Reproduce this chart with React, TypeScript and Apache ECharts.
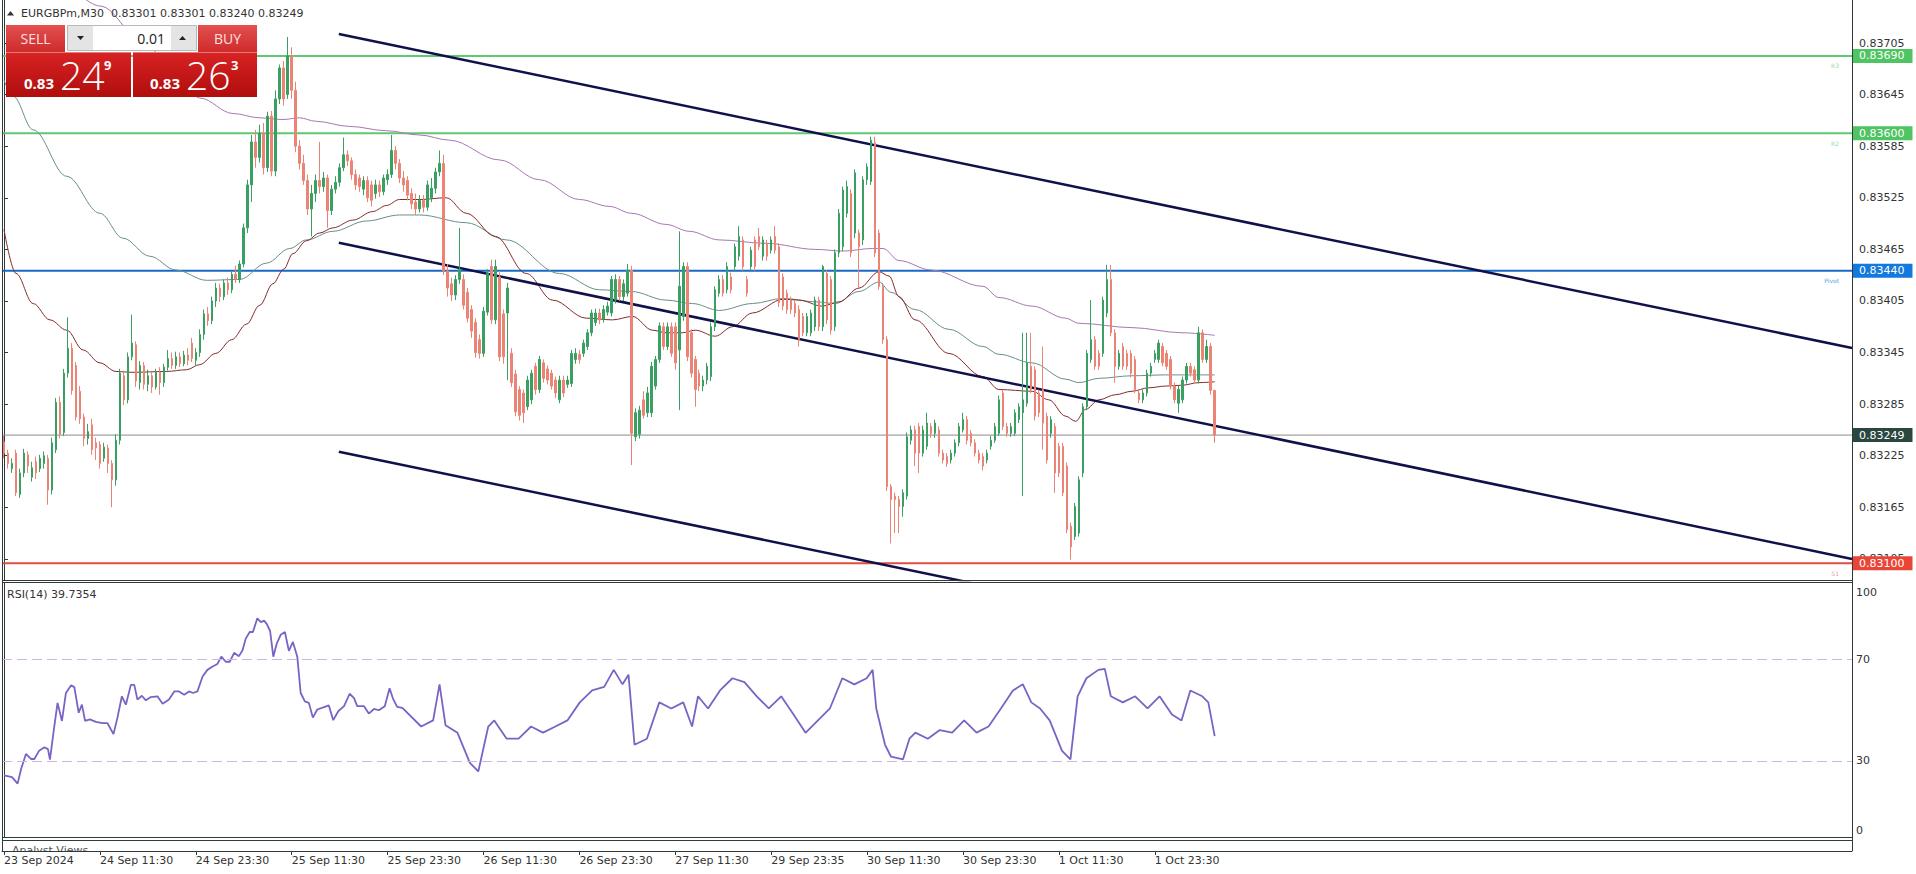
import React, { useEffect, useRef } from "react";
import * as echarts from "echarts";

const symbolTitle = "EURGBPm,M30  0.83301 0.83301 0.83240 0.83249";
const rsiTitle = "RSI(14) 39.7354";

// 30-minute bars, price in 1e-5 units: [open, high, low, close]
const candles: number[][] = [
  [83241,83248,83222,83228],[83228,83232,83210,83216],[83210,83222,83205,83216],[83228,83232,83178,83182],
  [83180,83210,83176,83205],[83205,83233,83200,83228],[83226,83230,83205,83213],[83200,83218,83195,83211],
  [83218,83224,83198,83205],[83210,83226,83206,83222],[83216,83230,83210,83225],[83222,83226,83168,83185],
  [83185,83246,83180,83240],[83232,83292,83228,83287],[83287,83294,83245,83250],[83252,83326,83248,83321],
  [83321,83386,83316,83350],[83350,83356,83296,83301],[83330,83334,83266,83270],[83300,83306,83262,83268],
  [83270,83274,83236,83245],[83245,83262,83238,83253],[83261,83268,83226,83232],[83240,83246,83220,83234],
  [83238,83242,83210,83216],[83222,83240,83218,83235],[83234,83238,83205,83216],[83216,83220,83165,83197],
  [83197,83250,83190,83243],[83243,83326,83238,83321],[83318,83324,83284,83290],[83290,83345,83286,83340],
  [83340,83389,83336,83356],[83354,83358,83305,83312],[83310,83335,83302,83330],[83330,83334,83302,83308],
  [83308,83325,83300,83318],[83318,83322,83298,83305],[83305,83326,83302,83322],[83322,83328,83296,83310],
  [83310,83332,83305,83328],[83328,83348,83324,83338],[83338,83345,83326,83330],[83330,83346,83326,83340],
  [83340,83345,83328,83332],[83332,83347,83329,83342],[83342,83350,83330,83336],[83356,83362,83334,83338],
  [83336,83350,83330,83345],[83345,83372,83340,83366],[83366,83395,83360,83390],[83390,83398,83376,83382],
  [83382,83410,83378,83405],[83405,83426,83398,83420],[83420,83425,83404,83410],[83410,83430,83406,83426],
  [83426,83432,83412,83418],[83418,83440,83414,83436],[83436,83446,83426,83430],[83430,83452,83426,83448],
  [83448,83495,83444,83490],[83490,83546,83484,83540],[83540,83598,83520,83590],[83590,83604,83560,83572],
  [83572,83610,83566,83600],[83600,83612,83552,83560],[83560,83625,83555,83620],[83620,83626,83550,83556],
  [83556,83650,83550,83640],[83640,83680,83634,83676],[83676,83684,83632,83640],[83645,83712,83640,83690],
  [83690,83700,83640,83650],[83650,83660,83578,83585],[83585,83592,83558,83565],[83565,83575,83540,83545],
  [83545,83552,83505,83512],[83512,83540,83480,83530],[83530,83552,83520,83545],[83545,83590,83530,83538],
  [83538,83555,83532,83548],[83548,83552,83490,83510],[83510,83540,83505,83535],[83535,83550,83530,83543],
  [83543,83565,83538,83560],[83560,83595,83556,83575],[83575,83580,83562,83568],[83568,83572,83546,83552],
  [83552,83558,83534,83540],[83548,83552,83532,83538],[83535,83550,83528,83545],[83545,83550,83520,83525],
  [83540,83545,83515,83522],[83530,83546,83524,83540],[83540,83545,83526,83532],[83532,83552,83528,83548],
  [83546,83558,83540,83552],[83552,83598,83548,83580],[83580,83585,83558,83565],[83565,83570,83542,83548],
  [83548,83556,83532,83540],[83545,83550,83522,83528],[83530,83536,83512,83518],[83520,83530,83505,83512],
  [83512,83528,83508,83522],[83522,83528,83508,83514],[83514,83545,83510,83540],[83525,83548,83520,83536],
  [83536,83560,83530,83555],[83555,83580,83550,83565],[83565,83575,83435,83440],[83440,83448,83410,83420],
  [83425,83432,83405,83412],[83412,83435,83406,83430],[83430,83490,83425,83442],[83430,83436,83395,83400],
  [83415,83420,83380,83385],[83395,83400,83362,83370],[83380,83385,83339,83345],[83360,83366,83338,83344],
  [83344,83398,83340,83393],[83392,83442,83388,83437],[83445,83453,83378,83383],[83383,83453,83378,83445],
  [83433,83440,83335,83340],[83390,83395,83332,83340],[83391,83426,83313,83420],[83344,83350,83305,83310],
  [83320,83325,83271,83276],[83302,83306,83266,83272],[83298,83302,83263,83275],[83282,83318,83278,83313],
  [83290,83325,83285,83321],[83329,83333,83296,83302],[83302,83341,83298,83337],[83333,83337,83310,83315],
  [83326,83330,83308,83313],[83321,83325,83302,83306],[83313,83317,83292,83298],[83290,83318,83286,83313],
  [83313,83318,83293,83298],[83308,83318,83304,83313],[83309,83348,83305,83344],[83337,83350,83332,83344],
  [83343,83348,83332,83337],[83344,83360,83340,83356],[83352,83372,83348,83368],[83368,83395,83364,83391],
  [83380,83396,83376,83391],[83391,83396,83378,83383],[83384,83400,83380,83395],[83392,83404,83388,83399],
  [83391,83434,83387,83430],[83406,83436,83402,83430],[83430,83434,83405,83410],[83410,83430,83405,83425],
  [83414,83448,83410,83441],[83441,83446,83214,83251],[83247,83280,83242,83275],[83250,83283,83245,83278],
  [83290,83300,83268,83272],[83275,83305,83270,83298],[83275,83334,83270,83329],[83306,83341,83302,83337],
  [83337,83380,83333,83376],[83375,83380,83348,83352],[83352,83380,83348,83375],[83375,83380,83340,83344],
  [83375,83380,83325,83333],[83348,83486,83278,83422],[83387,83450,83382,83445],[83445,83450,83335,83340],
  [83368,83372,83316,83321],[83337,83341,83282,83302],[83321,83325,83300,83306],[83306,83318,83300,83313],
  [83313,83333,83308,83329],[83317,83380,83312,83375],[83375,83422,83370,83418],[83414,83435,83410,83430],
  [83430,83435,83410,83414],[83418,83450,83414,83445],[83433,83438,83414,83418],[83445,83472,83440,83468],
  [83457,83492,83452,83480],[83476,83480,83440,83445],[83430,83434,83410,83414],[83445,83468,83440,83464],
  [83476,83480,83440,83445],[83480,83490,83464,83468],[83457,83480,83452,83476],[83472,83476,83452,83457],
  [83464,83480,83460,83476],[83480,83492,83460,83464],[83468,83472,83398,83403],[83433,83437,83394,83399],
  [83414,83418,83390,83395],[83406,83410,83390,83395],[83402,83406,83386,83391],[83395,83400,83352,83360],
  [83387,83391,83364,83368],[83368,83391,83364,83387],[83368,83395,83364,83391],[83375,83410,83370,83406],
  [83406,83410,83370,83375],[83375,83447,83370,83445],[83437,83441,83378,83383],[83430,83434,83366,83371],
  [83375,83465,83370,83461],[83461,83512,83456,83507],[83468,83538,83463,83534],[83507,83545,83502,83538],
  [83530,83535,83456,83461],[83484,83558,83478,83554],[83484,83488,83420,83468],[83476,83550,83470,83546],
  [83546,83565,83540,83561],[83544,83596,83540,83592],[83589,83596,83456,83461],[83484,83488,83418,83422],
  [83422,83426,83355,83360],[83360,83364,83184,83189],[83189,83192,83123,83174],[83178,83182,83135,83174],
  [83174,83178,83135,83166],[83166,83186,83154,83182],[83178,83252,83174,83247],[83243,83260,83238,83255],
  [83255,83260,83213,83228],[83259,83263,83205,83228],[83228,83260,83224,83255],[83236,83275,83232,83263],
  [83259,83263,83246,83251],[83251,83267,83246,83263],[83255,83259,83224,83228],[83228,83232,83216,83220],
  [83224,83228,83212,83216],[83220,83232,83216,83228],[83228,83244,83224,83240],[83240,83263,83236,83259],
  [83255,83275,83252,83267],[83267,83271,83238,83243],[83251,83255,83236,83240],[83240,83244,83224,83228],
  [83228,83232,83216,83220],[83224,83228,83208,83213],[83220,83232,83216,83228],[83236,83248,83232,83243],
  [83243,83263,83240,83259],[83251,83295,83248,83290],[83298,83302,83255,83259],[83259,83263,83247,83251],
  [83251,83263,83247,83259],[83251,83279,83248,83275],[83267,83286,83263,83282],[83275,83368,83178,83290],
  [83286,83368,83282,83333],[83329,83368,83298,83302],[83325,83329,83266,83271],[83298,83302,83270,83275],
  [83302,83352,83232,83263],[83271,83275,83216,83220],[83251,83271,83246,83267],[83259,83263,83182,83205],
  [83236,83240,83200,83205],[83236,83240,83178,83182],[83213,83217,83135,83139],[83143,83147,83104,83119],
  [83131,83170,83127,83166],[83135,83201,83131,83197],[83205,83286,83200,83282],[83282,83348,83278,83344],
  [83337,83406,83333,83360],[83360,83364,83325,83329],[83344,83348,83325,83329],[83344,83410,83340,83406],
  [83391,83447,83386,83430],[83430,83447,83364,83368],[83368,83372,83310,83329],[83329,83348,83325,83344],
  [83352,83356,83325,83329],[83344,83348,83325,83329],[83344,83348,83316,83321],[83337,83341,83298,83302],
  [83298,83302,83286,83290],[83290,83302,83286,83298],[83298,83325,83294,83321],[83321,83333,83317,83329],
  [83337,83348,83333,83344],[83337,83360,83333,83356],[83352,83356,83329,83333],[83344,83348,83325,83329],
  [83337,83341,83302,83306],[83306,83310,83286,83290],[83286,83306,83275,83302],[83290,83317,83286,83313],
  [83313,83333,83309,83329],[83329,83333,83317,83321],[83325,83329,83309,83313],[83313,83375,83309,83368],
  [83368,83372,83333,83337],[83337,83360,83333,83352],[83352,83356,83296,83301],[83301,83301,83240,83249],
];

const timeTicks: [number, string][] = [
  [0, "23 Sep 2024"], [24, "24 Sep 11:30"], [48, "24 Sep 23:30"], [72, "25 Sep 11:30"],
  [96, "25 Sep 23:30"], [120, "26 Sep 11:30"], [144, "26 Sep 23:30"], [168, "27 Sep 11:30"],
  [192, "29 Sep 23:35"], [216, "30 Sep 11:30"], [240, "30 Sep 23:30"], [264, "1 Oct 11:30"],
  [288, "1 Oct 23:30"],
];
const priceTicks = [0.83705, 0.83645, 0.83585, 0.83525, 0.83465, 0.83405, 0.83345, 0.83285, 0.83225, 0.83165, 0.83105];
const rsiTicks = [70, 30];
const rsiLevels = [70, 30];
const levelNames = ["R3", "R2", "Pivot", "S1"];
const levelPrices = [0.8369, 0.836, 0.8344, 0.831];
const lastPrice = 0.83249;

// moving averages: [bar index, price]
const maFast: number[][] = [
  [0,0.83488],[3,0.83437],[7.3,0.83402],[11.5,0.83383],[15.7,0.83371],[19.8,0.83348],[24,0.83333],[28,0.83323],
  [32,0.83322],[40.7,0.83323],[45.7,0.83325],[49,0.83331],[53,0.83344],[57,0.8336],[60.7,0.83378],[64,0.834],
  [67.3,0.83425],[70,0.83442],[72.3,0.8346],[75.7,0.83475],[79,0.83484],[82.3,0.8349],[87.3,0.83499],[92.3,0.83509],
  [95.7,0.83516],[99,0.83523],[104,0.83523],[110.7,0.83525],[115.7,0.83507],[123,0.8348],[130.7,0.83437],[137.3,0.83406],
  [145.7,0.83385],[152.3,0.83383],[157.3,0.83387],[162.3,0.83371],[165.7,0.83368],[169.8,0.83368],[173,0.83371],[178,0.83364],
  [182.3,0.83375],[187.3,0.83391],[195,0.83407],[199,0.83406],[204.8,0.83399],[209,0.83404],[214,0.8342],[219,0.83439],
  [221.5,0.83434],[224,0.8341],[228,0.83383],[236.5,0.83344],[245,0.83317],[249,0.83302],[257.3,0.833],[261.5,0.8329],
  [265.7,0.83271],[268.2,0.83265],[270.7,0.83279],[274,0.8329],[278.2,0.83296],[282.3,0.833],[286.5,0.83304],[290.7,0.83306],
  [294.8,0.83307],[299,0.8331],[303,0.83311],
];
const maMid: number[][] = [
  [0,0.83662],[2.3,0.83643],[7.3,0.83604],[15.7,0.8355],[24,0.83507],[29.8,0.83478],[36.5,0.83457],[43,0.83441],
  [50.7,0.83429],[59,0.8343],[65.7,0.83449],[71.5,0.83466],[75.7,0.83476],[82.3,0.83486],[90.7,0.83498],[99,0.83505],
  [104,0.83505],[115.7,0.83496],[125.7,0.83476],[139,0.83437],[149,0.83418],[157,0.83416],[165.7,0.83406],[172.3,0.83402],
  [179,0.83394],[187.3,0.83402],[195,0.83408],[203,0.83404],[208,0.83402],[214,0.83416],[219,0.83427],[222,0.83415],
  [228,0.83395],[236.5,0.83372],[245,0.83352],[249,0.83343],[257.3,0.83333],[265.7,0.83314],[269,0.8331],[274,0.83315],
  [282.3,0.83318],[290.7,0.83319],[303,0.83319],
];
const maSlow: number[][] = [
  [20,0.83757],[24,0.83748],[36,0.837],[44,0.83662],[49,0.83641],[57.3,0.83623],[64,0.83618],[69.8,0.83616],
  [74,0.83618],[78,0.83614],[86.5,0.83608],[95.7,0.83603],[104,0.83598],[111.5,0.83592],[124,0.83569],[134,0.83546],
  [144,0.83523],[151.5,0.83515],[157,0.83507],[165.7,0.83494],[171.5,0.83486],[179,0.83476],[190.7,0.83472],[203,0.83465],
  [210,0.83463],[217.3,0.83466],[220,0.83466],[224,0.83452],[232,0.83441],[245,0.83422],[249,0.83409],[257.3,0.83399],
  [265.7,0.83385],[269,0.83379],[282.3,0.83374],[294.8,0.83368],[303,0.83365],
];
const rsi: number[][] = [
  [0,24.3],[2,23.6],[3.4,21.0],[4.3,26.9],[5.5,32.7],[6.8,30.7],[7.6,30.7],[8.8,34.0],[10.1,35.3],[11,34.6],[11.5,30.5],
  [12.6,43.7],[13.4,52.8],[14.5,45.7],[15.5,56.7],[16.8,59.7],[17.6,59.0],[18.7,48.9],[19.5,52.1],[20.3,45.7],[21.5,46.3],
  [23,45.3],[24.7,44.8],[25.9,44.8],[27.4,40.5],[28.4,47.0],[29.5,55.4],[30.5,52.1],[31.75,59.9],[32.6,59.9],[33.4,54.1],
  [34.5,55.6],[35.5,53.8],[36.75,55.1],[38.4,55.4],[39.7,52.5],[41.3,54.1],[42.6,57.3],[43.8,57.3],[45.1,56.0],[46.3,57.3],
  [47.3,56.7],[48.4,57.3],[49.7,63.2],[50.9,65.8],[52.2,67.1],[53.4,68.1],[54.4,71.0],[55.5,69.0],[56.5,69.0],[57.6,72.5],
  [58.8,71.2],[59.7,73.5],[60.5,78.1],[61.5,80.7],[62.3,80.7],[63.4,86.1],[64.3,84.6],[65.1,85.2],[65.75,83.9],[66.6,81.1],
  [67.4,71.0],[68.25,76.1],[69.25,79.6],[70.3,80.7],[71.3,73.3],[72.3,76.8],[73.4,71.0],[74.25,56.7],[75.3,53.4],[76.3,52.8],
  [77.3,47.0],[78.4,50.2],[80.1,51.1],[81.3,51.8],[82.4,46.0],[83.7,49.6],[85.1,51.5],[86.5,56.4],[87.6,54.7],[88.4,51.5],
  [90.1,51.5],[91.3,48.6],[92.6,50.4],[93.8,49.9],[95.3,51.5],[96.5,58.6],[97.3,54.7],[98.4,51.2],[99.7,50.8],[104.4,43.5],
  [107.4,45.9],[109,60.1],[110.5,44.0],[113.5,41.0],[116.6,29.2],[118.7,25.8],[121.2,43.5],[122.7,45.9],[125.8,38.7],[128.8,38.7],
  [131.9,43.5],[134.9,41.1],[138,43.5],[141,45.9],[144.1,53.0],[147.2,57.7],[150.2,59.1],[152.6,65.8],[154.8,60.1],[156.3,63.9],
  [157.8,36.3],[160.9,38.7],[164,53.0],[167,50.6],[170,53.0],[172.2,43.5],[173.7,55.4],[176.2,50.6],[179.2,57.7],[182.3,62.5],
  [185.3,61.0],[188.4,55.4],[191.4,50.6],[194.5,55.4],[197.6,48.2],[200.6,41.0],[203.7,45.9],[206.7,50.6],[209.8,62.5],[212.8,60.1],
  [215.9,62.5],[217.4,65.8],[218.3,50.6],[220.5,36.3],[222,31.6],[225,30.6],[226.6,38.7],[228.1,41.1],[231.2,38.7],[234.2,42.1],
  [237.3,41.1],[240.3,45.9],[243.4,41.1],[246.4,43.5],[249.5,50.6],[252.5,57.7],[255,60.1],[257.1,53.0],[259.3,50.6],[261.7,45.9],
  [264.8,33.9],[266.9,30.6],[268.7,55.4],[270.9,62.5],[273.9,65.8],[275.5,66.2],[277,55.4],[280,53.0],[283.1,55.4],[286.2,50.6],
  [289.2,55.4],[292.3,48.2],[294.7,45.9],[296.9,57.7],[299.9,55.4],[301.4,53.0],[303,39.7],
];
// trend channel anchors: [bar index, price]
const channelUpper = [[83.8, 0.837155], [462.5, 0.833503]];
const channelMiddle = [[83.8, 0.834727], [462.5, 0.831049]];
const channelLower = [[83.8, 0.832297], [462.5, 0.828646]];

const SLOTS = 463;
const FONT = '"DejaVu Sans", Verdana, sans-serif';
const BIG = '"Open Sans", "Liberation Sans", sans-serif';
const AXIS = "#2f3b3b";
const GREEN = "#3a9f63";
const RED = "#eb8475";
const lineColors = ["#5fc971", "#5fc971", "#1769c4", "#e24c41"];
const tagColors = ["#4fc463", "#4fc463", "#1479dc", "#ea4638"];
const faintColors = ["#9ad6a5", "#9ad6a5", "#5a9fe0", "#e99a94"];

function grad(a: string, b: string) {
  return { type: "linear", x: 0, y: 0, x2: 0, y2: 1, colorStops: [{ offset: 0, color: a }, { offset: 1, color: b }] };
}

function txt(x: number, y: number, text: string, font: string, fill: string, align = "left", valign = "middle", z = 100) {
  return {
    type: "text", x, y, z, silent: true,
    style: { text, font, fill, textAlign: align, textVerticalAlign: valign, align, verticalAlign: valign },
  };
}

function baseGraphics(): any[] {
  const frame = (x1: number, y1: number, x2: number, y2: number) => ({
    type: "line", z: 60, silent: true, shape: { x1, y1, x2, y2 }, style: { stroke: AXIS, lineWidth: 1 },
  });
  return [
    frame(2.5, 0, 2.5, 851), frame(1852.5, 0, 1852.5, 851),
    frame(2, 580.5, 1852, 580.5), frame(2, 582.5, 1852, 582.5),
    frame(2, 837.5, 1852, 837.5), frame(2, 840.5, 1852, 840.5),
    txt(12, 845, "Analyst Views", `11px ${FONT}`, "#555", "left", "top", 2),
    { type: "rect", z: 3, silent: true, shape: { x: 3, y: 851.5, width: 1849, height: 7 }, style: { fill: "#fff" } },
    txt(1856, 592, "100", `11px ${FONT}`, "#333"),
    txt(1856, 830, "0", `11px ${FONT}`, "#333"),
    txt(7, 594, rsiTitle, `11px ${FONT}`, "#333"),
    { type: "polygon", z: 100, silent: true, shape: { points: [[7, 15.5], [14, 15.5], [10.5, 11]] }, style: { fill: "#333" } },
    txt(21, 13, symbolTitle, `11px ${FONT}`, "#333"),
    // one-click trading panel
    { type: "rect", z: 100, silent: true, shape: { x: 6, y: 52, width: 125, height: 45 }, style: { fill: grad("#d82323", "#b00d0d") } },
    { type: "rect", z: 100, silent: true, shape: { x: 133, y: 52, width: 124, height: 45 }, style: { fill: grad("#d82323", "#b00d0d") } },
    { type: "rect", z: 100, silent: true, shape: { x: 6, y: 25, width: 59, height: 27 }, style: { fill: grad("#e25050", "#cf2b2b") } },
    { type: "rect", z: 100, silent: true, shape: { x: 198, y: 25, width: 59, height: 27 }, style: { fill: grad("#e25050", "#cf2b2b") } },
    { type: "line", z: 101, silent: true, shape: { x1: 6, y1: 52.5, x2: 131, y2: 52.5 }, style: { stroke: "#e87b7b", lineWidth: 1 } },
    { type: "line", z: 101, silent: true, shape: { x1: 133, y1: 52.5, x2: 257, y2: 52.5 }, style: { stroke: "#e87b7b", lineWidth: 1 } },
    { type: "rect", z: 102, silent: true, shape: { x: 67.5, y: 25.5, width: 129, height: 25 }, style: { fill: "#e4e4e4", stroke: "#b9b9b9", lineWidth: 1 } },
    { type: "rect", z: 103, silent: true, shape: { x: 93, y: 26, width: 78, height: 24 }, style: { fill: "#ffffff" } },
    { type: "polygon", z: 104, silent: true, shape: { points: [[77, 36], [84, 36], [80.5, 40]] }, style: { fill: "#222" } },
    { type: "polygon", z: 104, silent: true, shape: { points: [[179, 40], [186, 40], [182.5, 36]] }, style: { fill: "#222" } },
    txt(165, 38, "0.01", `14px ${BIG}`, "#222", "right", "middle", 104),
    txt(35.5, 38.5, "SELL", `14px ${BIG}`, "#fbe0e0", "center", "middle", 104),
    txt(227.5, 38.5, "BUY", `14px ${BIG}`, "#fbe0e0", "center", "middle", 104),
    txt(24, 82.5, "0.83", `bold 15px ${BIG}`, "#fff", "left", "middle", 104),
    txt(60, 74, "24", `300 39px ${BIG}`, "#fff", "left", "middle", 104),
    txt(104, 65, "9", `bold 13px ${BIG}`, "#fff", "left", "middle", 104),
    txt(150, 82.5, "0.83", `bold 15px ${BIG}`, "#fff", "left", "middle", 104),
    txt(186, 74, "26", `300 39px ${BIG}`, "#fff", "left", "middle", 104),
    txt(231, 65, "3", `bold 13px ${BIG}`, "#fff", "left", "middle", 104),
  ];
}

function buildOption() {
  const cats = Array.from({ length: SLOTS }, (_, i) => String(i));
  const tickMap = new Map(timeTicks);
  const candleData = candles.map(([o, h, l, c]) => [o / 1e5, c / 1e5, l / 1e5, h / 1e5]);

  const lineSeries = (data: number[][], color: string, width: number, smooth: boolean) => ({
    type: "line", xAxisIndex: 1, yAxisIndex: 0, data, showSymbol: false, symbol: "none", silent: true,
    smooth: smooth ? 0.35 : false, smoothMonotone: "x", clip: true,
    lineStyle: { color, width }, z: 3,
  });

  const tagLabel = (text: string, bg: string) => ({
    show: true, formatter: text, color: "#fff", backgroundColor: bg,
    padding: [1, 8, 1, 6], distance: 1, fontSize: 11, lineHeight: 12, fontFamily: FONT,
  });

  const levelSeries = levelPrices.map((p, k) => ({
    type: "line", xAxisIndex: 1, yAxisIndex: 0, silent: true, showSymbol: false, symbol: "none", z: 2,
    data: [[-0.5, p], [SLOTS - 0.5, p]],
    lineStyle: { color: lineColors[k], width: 2 },
    endLabel: tagLabel(p.toFixed(5), tagColors[k]),
  }));
  const lastSeries = {
    type: "line", xAxisIndex: 1, yAxisIndex: 0, silent: true, showSymbol: false, symbol: "none", z: 2,
    data: [[-0.5, lastPrice], [SLOTS - 0.5, lastPrice]],
    lineStyle: { color: "#8a8a8a", width: 1 },
    endLabel: tagLabel(lastPrice.toFixed(5), "#2a4641"),
  };

  return {
    animation: false,
    backgroundColor: "#ffffff",
    grid: [
      { left: 2, top: 0, width: 1850, height: 580 },
      { left: 2, top: 583, width: 1850, height: 254 },
      { left: 2, top: 840, width: 1850, height: 11 },
    ],
    xAxis: [
      { type: "category", gridIndex: 0, data: cats, boundaryGap: true, show: false },
      { type: "value", gridIndex: 0, min: -0.5, max: SLOTS - 0.5, show: false },
      { type: "value", gridIndex: 1, min: -0.5, max: SLOTS - 0.5, show: false },
      {
        type: "category", gridIndex: 2, data: cats, boundaryGap: true, position: "bottom", z: 10,
        axisLine: { show: true, lineStyle: { color: AXIS, width: 1 } },
        axisTick: { show: true, alignWithLabel: true, length: 4, interval: (i: number) => tickMap.has(i), lineStyle: { color: AXIS } },
        axisLabel: {
          show: true, interval: (i: number) => tickMap.has(i), formatter: (_v: string, i: number) => tickMap.get(i) ?? "",
          align: "left", margin: 4, fontSize: 11, color: "#333", fontFamily: FONT,
        },
        splitLine: { show: false },
      },
    ],
    yAxis: [
      {
        type: "value", gridIndex: 0, position: "right", min: 0.8308047, max: 0.8375501, scale: true,
        axisLine: { show: true, lineStyle: { color: AXIS, width: 1 } },
        axisTick: { show: true, customValues: priceTicks, length: 4, lineStyle: { color: AXIS } },
        axisLabel: { show: true, customValues: priceTicks, formatter: (v: number) => v.toFixed(5), margin: 7, fontSize: 11, color: "#333", fontFamily: FONT },
        splitLine: { show: false },
      },
      {
        type: "value", gridIndex: 1, position: "right", min: 0, max: 100,
        axisLine: { show: true, lineStyle: { color: AXIS, width: 1 } },
        axisTick: { show: false },
        axisLabel: { show: true, customValues: rsiTicks, margin: 4, fontSize: 11, color: "#333", fontFamily: FONT },
        splitLine: { show: false },
      },
      { type: "value", gridIndex: 2, show: false, min: 0, max: 1 },
    ],
    series: [
      ...levelSeries,
      lastSeries,
      lineSeries(maSlow, "#a877b3", 1, true),
      lineSeries(maMid, "#66908b", 1, true),
      lineSeries(maFast, "#862a2a", 1, true),
      {
        type: "candlestick", xAxisIndex: 0, yAxisIndex: 0, data: candleData, barWidth: 2, silent: true, z: 4,
        itemStyle: { color: GREEN, color0: RED, borderColor: GREEN, borderColor0: RED, borderWidth: 1 },
      },
      lineSeries(channelUpper, "#10104a", 2.5, false),
      lineSeries(channelMiddle, "#10104a", 2.5, false),
      lineSeries(channelLower, "#10104a", 2.5, false),
      {
        type: "line", xAxisIndex: 2, yAxisIndex: 1, data: rsi, showSymbol: false, symbol: "none", silent: true,
        lineStyle: { color: "#7a63c4", width: 1.8 },
        markLine: {
          symbol: ["none", "none"], silent: true, animation: false, label: { show: false },
          lineStyle: { color: "#cdb6e0", type: [10, 5], width: 1 },
          data: rsiLevels.map((v) => ({ yAxis: v })),
        },
      },
      { type: "line", xAxisIndex: 3, yAxisIndex: 2, data: [], silent: true },
    ],
    graphic: { elements: baseGraphics() },
  };
}

export default function App() {
  const ref = useRef<HTMLDivElement>(null);
  useEffect(() => {
    const chart = echarts.init(ref.current!, null, { renderer: "svg" });
    chart.setOption(buildOption() as any);
    // small level names under each level line, placed through the price scale
    const names = levelPrices.map((p, k) => {
      const y = chart.convertToPixel({ yAxisIndex: 0 }, p) as number;
      return txt(1839, y + 10, levelNames[k], `6px ${FONT}`, faintColors[k], "right", "middle", 5);
    });
    chart.setOption({ graphic: { elements: [...baseGraphics(), ...names] } } as any);
    return () => chart.dispose();
  }, []);
  return (
    <div
      ref={ref}
      style={{ position: "fixed", left: 0, top: 0, width: 1916, height: 874, background: "#fff" }}
    />
  );
}
